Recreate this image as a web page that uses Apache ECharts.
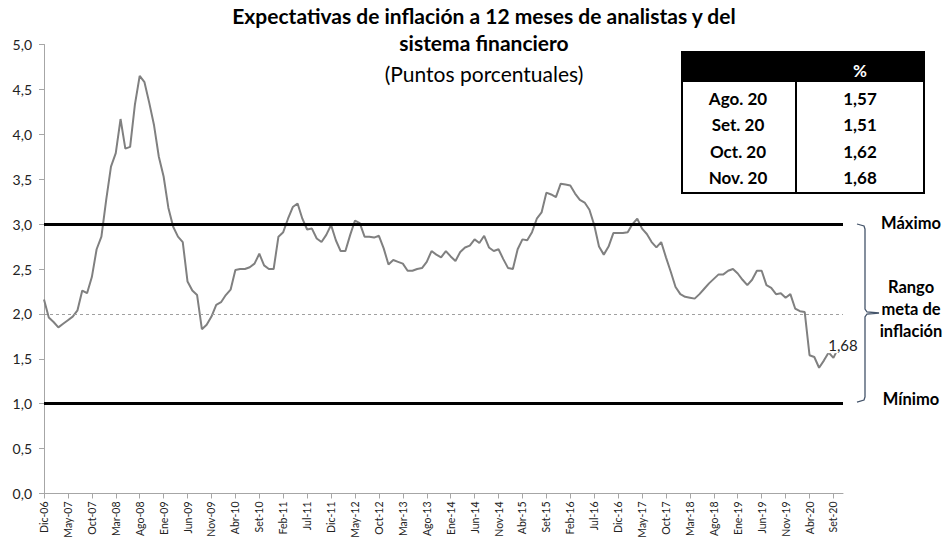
<!DOCTYPE html>
<html>
<head>
<meta charset="utf-8">
<script src="https://cdn.jsdelivr.net/npm/echarts@6/dist/echarts.min.js"></script>
<style>html,body{margin:0;padding:0;background:#fff}#c{width:946px;height:538px}</style>
</head>
<body>
<div id="c"></div>
<script>
// ---- Data ----
const monthNames = ['Ene','Feb','Mar','Abr','May','Jun','Jul','Ago','Set','Oct','Nov','Dic'];
const startYear = 2006, startMonth = 11; // Dic-06
const nMonths = 168; // Dic-06 .. Nov-20
const categories = [];
for (let k = 0; k < nMonths; k++) {
  const m = (startMonth + k) % 12;
  const y = startYear + Math.floor((startMonth + k) / 12);
  categories.push(monthNames[m] + '-' + String(y).slice(2));
}
const expectativas = [
  2.16,1.96,1.91,1.85,1.89,1.93,1.97,2.04,2.26,2.23,2.41,2.72,
  2.86,3.27,3.64,3.79,4.17,3.84,3.86,4.33,4.65,4.58,4.35,4.10,
  3.75,3.53,3.18,2.97,2.86,2.80,2.36,2.26,2.21,1.83,1.88,1.97,
  2.10,2.13,2.21,2.27,2.49,2.50,2.50,2.52,2.56,2.67,2.54,2.50,
  2.50,2.86,2.91,3.06,3.19,3.23,3.06,2.94,2.95,2.84,2.80,2.88,
  2.99,2.82,2.70,2.70,2.88,3.04,3.01,2.86,2.86,2.85,2.87,2.73,
  2.55,2.60,2.58,2.56,2.48,2.48,2.50,2.51,2.58,2.70,2.66,2.63,
  2.70,2.64,2.59,2.69,2.74,2.76,2.83,2.79,2.87,2.74,2.70,2.72,
  2.61,2.51,2.50,2.72,2.83,2.82,2.91,3.06,3.13,3.35,3.33,3.30,
  3.45,3.44,3.43,3.34,3.27,3.24,3.16,2.99,2.75,2.66,2.75,2.90,
  2.90,2.90,2.91,3.00,3.06,2.95,2.89,2.80,2.74,2.80,2.63,2.47,
  2.30,2.22,2.19,2.18,2.17,2.22,2.28,2.34,2.39,2.44,2.44,2.48,
  2.50,2.45,2.38,2.32,2.38,2.48,2.48,2.32,2.29,2.22,2.23,2.18,
  2.22,2.06,2.03,2.02,1.54,1.52,1.40,1.48,1.57,1.51,1.62,1.68
];
const rangoMax = 3.0, rangoMin = 1.0, rangoCentro = 2.0;
const tableMonths = ['Ago. 20','Set. 20','Oct. 20','Nov. 20'];
const tableValues = ['1,57','1,51','1,62','1,68'];
const yTicks = ['0,0','0,5','1,0','1,5','2,0','2,5','3,0','3,5','4,0','4,5','5,0'];

// ---- Chart ----
const FONT = 'Lato, "Open Sans", sans-serif';
const chart = echarts.init(document.getElementById('c'), null, {renderer: 'svg'});

const last = expectativas.length - 1;
const graphics = [];
// table
const tX0 = 682, tX1 = 924, tY0 = 52, tY1 = 193, tHead = 82, tDiv = 796;
graphics.push({type:'rect', shape:{x:tX0, y:tY0, width:tX1-tX0, height:tY1-tY0}, style:{fill:'#fff', stroke:'#000', lineWidth:2}});
graphics.push({type:'rect', shape:{x:tX0, y:tY0, width:tX1-tX0, height:tHead-tY0}, style:{fill:'#000'}});
graphics.push({type:'line', shape:{x1:tDiv, y1:tHead, x2:tDiv, y2:tY1}, style:{stroke:'#000', lineWidth:2}});
graphics.push({type:'text', x:860, y:70, style:{text:'%', fill:'#fff', font:'bold 17px '+FONT, textAlign:'center', textVerticalAlign:'middle'}});
const rowY = [98, 124, 151, 177];
tableMonths.forEach((m, i) => {
  graphics.push({type:'text', x:738, y:rowY[i], style:{text:m, fill:'#000', font:'bold 17px '+FONT, textAlign:'center', textVerticalAlign:'middle'}});
  graphics.push({type:'text', x:860, y:rowY[i], style:{text:tableValues[i], fill:'#000', font:'bold 17px '+FONT, textAlign:'center', textVerticalAlign:'middle'}});
});
// right annotations
const annFont = 'bold 16.5px ' + FONT;
[['Máximo', 223], ['Rango', 287], ['meta de', 309], ['inflación', 331], ['Mínimo', 399]].forEach(([t, y]) => {
  graphics.push({type:'text', x:911, y:y, style:{text:t, fill:'#000', font:annFont, textAlign:'center', textVerticalAlign:'middle'}});
});
graphics.push({type:'polyline', shape:{points:[[857,224],[864,226],[865,229],[865,309],[867,312],[879,313],[867,314],[865,317],[865,397],[864,400],[857,402]]}, style:{stroke:'#44546a', lineWidth:1.3, fill:null}});

const option = {
  backgroundColor: '#fff',
  animation: false,
  title: {
    text: 'Expectativas de inflación a 12 meses de analistas y del\nsistema financiero',
    subtext: '(Puntos porcentuales)',
    left: 484, top: 2, textAlign: 'center', itemGap: 5, padding: 0,
    textStyle: {fontFamily: FONT, fontWeight: 'bold', fontSize: 21, color: '#000', lineHeight: 27},
    subtextStyle: {fontFamily: FONT, fontSize: 21, color: '#000', lineHeight: 24}
  },
  grid: {left: 44, right: 103, top: 44.5, bottom: 44.5, containLabel: false, outerBoundsMode: 'none'},
  xAxis: {
    type: 'category', data: categories, boundaryGap: false,
    axisLine: {lineStyle: {color: '#a6a6a6', width: 1}},
    axisTick: {show: true, interval: 4, length: 5, lineStyle: {color: '#a6a6a6'}},
    axisLabel: {interval: 4, rotate: 90, fontSize: 10.5, color: '#222', fontFamily: FONT, margin: 8},
    splitLine: {show: false}
  },
  yAxis: {
    type: 'value', min: 0, max: 5, interval: 0.5,
    axisLine: {show: true, lineStyle: {color: '#a6a6a6', width: 1}},
    axisTick: {show: true, length: 5, lineStyle: {color: '#a6a6a6'}},
    axisLabel: {fontSize: 14, color: '#222', fontFamily: FONT, margin: 12,
      formatter: v => yTicks[Math.round(v / 0.5)]},
    splitLine: {show: false}
  },
  series: [{
    type: 'line', data: expectativas, symbol: 'none', smooth: false,
    lineStyle: {color: '#808080', width: 2},
    markLine: {
      silent: true, symbol: 'none', label: {show: false},
      data: [
        {yAxis: rangoMax, lineStyle: {color: '#000', width: 3, type: 'solid'}},
        {yAxis: rangoMin, lineStyle: {color: '#000', width: 3, type: 'solid'}},
        {yAxis: rangoCentro, lineStyle: {color: '#a0a0a0', width: 1, type: [3, 3]}}
      ]
    },
    markPoint: {
      silent: true,
      data: [{
        coord: [last, expectativas[last]],
        symbol: 'rect', symbolSize: [32, 17], symbolOffset: [0, 2],
        itemStyle: {color: '#fff'},
        label: {show: true, position: 'inside', formatter: '1,68', color: '#222', fontSize: 15, fontFamily: FONT}
      }]
    },
    z: 3
  }],
  graphic: graphics
};
chart.setOption(option);
</script>
</body>
</html>
